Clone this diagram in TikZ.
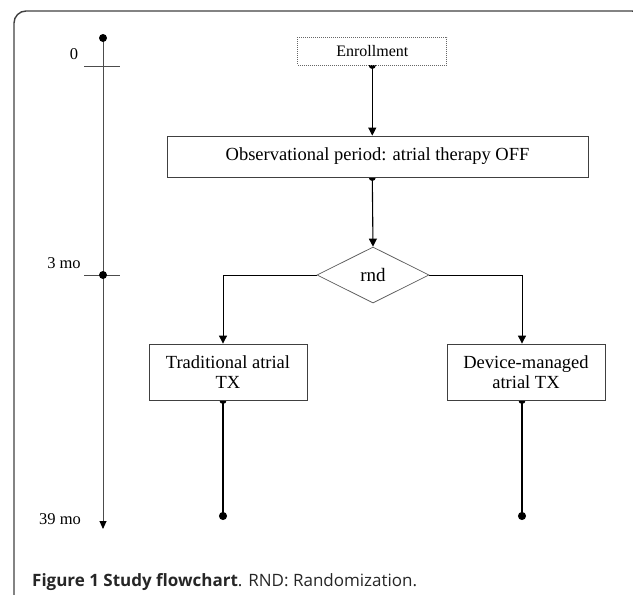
\documentclass[tikz,border=0pt]{standalone}
\usepackage{fontspec}
\setmainfont{Liberation Serif}
\newfontfamily\capfont{Open Sans}
\usepackage{tikz}
\usetikzlibrary{arrows.meta,shapes.geometric,backgrounds}

\tikzset{
	box/.style={draw=black!75,fill=white,line width=0.8pt,inner sep=0pt,align=center},
	flow/.style={line width=1.1pt,-{Triangle[length=8pt,width=8pt]}},
	fromdot/.style={{Circle[length=7pt]}-{Triangle[length=8pt,width=8pt]},shorten <=-3.5pt},
	enddot/.style={line width=1.1pt,{Circle[length=7pt]}-{Circle[length=8pt]},shorten <=-3.5pt},
	tick/.style={line width=0.8pt,black!70},
	lbl/.style={inner sep=0pt,font=\fontsize{16.5}{18}\selectfont}
}

\begin{document}
\begin{tikzpicture}[x=1pt,y=-1pt]
			\useasboundingbox (0,0) rectangle (633,595);
			\begin{scope}
				\clip (0,0) rectangle (633,595);
				\draw[line width=1.4pt,black!75,rounded corners=12pt] (14,620) -- (14,11) -- (644,11) -- (644,620);
			\end{scope}

			\coordinate (ttop) at (103,38);
			\coordinate (tbot) at (103,529);
			\draw[line width=0.9pt,black!70,-{Triangle[length=8pt,width=7pt,color=black]}] (ttop) -- (tbot);
			\fill (ttop) circle (4pt);
			\draw[tick] (84,66) -- (120,66);
			\draw[tick] (84,275) -- (120,275);
			\fill (103,275) circle (4pt);
			\node[lbl] (m0) at (74,54) {0};
			\node[lbl] (m3) at (64,263) {3 mo};
			\node[lbl] (m39) at (60,519) {39 mo};

			\node[box,draw=black!60,dash pattern=on 1pt off 1pt,minimum width=149pt,minimum height=28pt,font=\fontsize{16}{18}\selectfont] (enroll) at (372.3,51) {Enrollment};
			\node[box,minimum width=421pt,minimum height=41pt,font=\fontsize{18.5}{20}\selectfont] (obs) at (377.5,156.5) {Observational period: atrial therapy OFF};
			\node[diamond,draw=black!65,line width=0.7pt,fill=white,aspect=2,inner sep=0pt,minimum width=112pt,minimum height=56pt,font=\fontsize{19}{20}\selectfont] (rnd) at (373,275) {rnd};
			\node[box,minimum width=158pt,minimum height=56pt,font=\fontsize{18.5}{20}\selectfont] (trad) at (228,372) {Traditional atrial\\TX};
			\node[box,minimum width=158pt,minimum height=56pt,font=\fontsize{18.5}{20}\selectfont] (dev) at (526,372) {Device-managed\\atrial TX};

			\coordinate (tradend) at (223,520);
			\coordinate (devend) at (522,520);
			\begin{scope}[on background layer]
				\draw[flow,fromdot] (enroll.south) -- (enroll.south |- obs.north);
				\draw[flow,fromdot] (enroll.south |- obs.south) -- (rnd.north);
				\draw[flow,line width=0.9pt] (rnd.west) -| ([xshift=-5pt]trad.north);
				\draw[flow,line width=0.9pt] (rnd.east) -| ([xshift=-4pt]dev.north);
				\draw[enddot] ([xshift=-5pt]trad.south) -- (tradend);
				\draw[enddot] ([xshift=-4pt]dev.south) -- (devend);
			\end{scope}

			\node[anchor=base west,inner sep=0pt,text=black!85,font=\capfont\fontsize{17}{20}\selectfont] (cap) at (32,586) {\textbf{Figure 1 Study flowchart}. RND: Randomization.};
		\end{tikzpicture}
\end{document}
